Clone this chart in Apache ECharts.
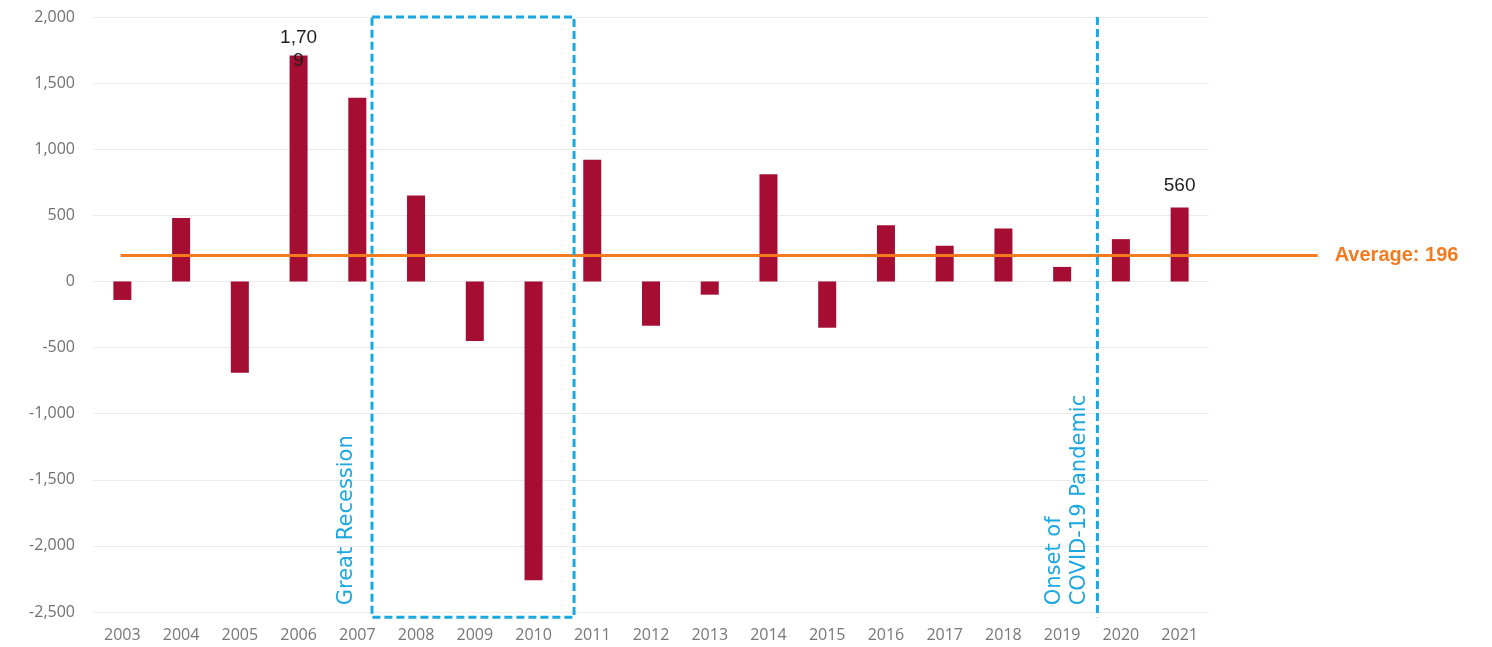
<!DOCTYPE html>
<html>
<head>
<meta charset="utf-8">
<title>Annual change, 2003–2021</title>
<script src="https://cdn.jsdelivr.net/npm/echarts@6/dist/echarts.min.js"></script>
<style>
  html, body { margin: 0; padding: 0; background: #ffffff; }
  #chart { width: 1492px; height: 647px; }
</style>
</head>
<body>
<div id="chart"></div>
<script>
// Year-over-year change
const years = ['2003', '2004', '2005', '2006', '2007', '2008', '2009', '2010', '2011', '2012',
               '2013', '2014', '2015', '2016', '2017', '2018', '2019', '2020', '2021'];
const changes = [-140, 480, -690, 1709, 1390, 650, -450, -2260, 920, -335,
                 -100, 810, -350, 425, 270, 400, 110, 320, 560];
const labelledYears = ['2006', '2021'];
const average = 196;

// Value axis
const yMin = -2500;
const yMax = 2000;
const yStep = 500;

// Annotated periods, as fractional years on the category scale
const recessionSpan = [2007.25, 2010.69];
const covidOnset = 2019.6;

const BAR = '#a50d32';
const ORANGE = '#f27a1f';
const BLUE = '#1ba7e0';

const chart = echarts.init(document.getElementById('chart'), null, { renderer: 'canvas' });

const fmt = v => v.toLocaleString('en-US');

const barData = changes.map((v, i) => {
  if (!labelledYears.includes(years[i])) return v;
  const tall = String(fmt(v)).length > 4;
  return {
    value: v,
    label: {
      show: true,
      position: 'top',
      distance: 10,
      offset: [0, tall ? 27 : 0],
      width: 40,
      overflow: 'breakAll',
      lineHeight: 23,
      fontFamily: 'Liberation Sans, Arial, sans-serif',
      fontSize: 19,
      color: '#1e1e1e',
      formatter: p => fmt(p.value)
    }
  };
});

const option = {
  animation: false,
  backgroundColor: '#ffffff',
  grid: { left: 93, right: 283, top: 17, bottom: 35, containLabel: false },
  xAxis: {
    type: 'category',
    data: years,
    axisLine: { show: false, onZero: false },
    axisTick: { show: false },
    axisLabel: {
      margin: 15,
      color: '#777777',
      fontFamily: 'Open Sans, sans-serif',
      fontSize: 16
    },
    splitLine: { show: false }
  },
  yAxis: {
    type: 'value',
    min: yMin,
    max: yMax,
    interval: yStep,
    axisLine: { show: false },
    axisTick: { show: false },
    axisLabel: {
      margin: 18,
      color: '#707070',
      fontFamily: 'Open Sans, sans-serif',
      fontSize: 16,
      formatter: v => fmt(v)
    },
    splitLine: { lineStyle: { color: '#ebebeb', width: 1 } }
  },
  series: [{
    type: 'bar',
    data: barData,
    barWidth: 18,
    itemStyle: { color: BAR },
    label: { show: false }
  }]
};

chart.setOption(option);

// Overlays placed through the chart's own scales
function yearToX(yr) {
  const p0 = chart.convertToPixel({ xAxisIndex: 0 }, years[0]);
  const p1 = chart.convertToPixel({ xAxisIndex: 0 }, years[1]);
  return p0 + (yr - Number(years[0])) * (p1 - p0);
}
const valToY = v => chart.convertToPixel({ yAxisIndex: 0 }, v);

const avgY = valToY(average);
const avgX0 = yearToX(2002.97);
const avgX1 = yearToX(2023.35);

const boxTop = valToY(yMax);
const boxBottom = valToY(yMin - 40);
const recX0 = yearToX(recessionSpan[0]);
const recX1 = yearToX(recessionSpan[1]);
const covX = yearToX(covidOnset);

const dash = { stroke: BLUE, lineWidth: 3, lineDash: [8, 4], fill: null };
const noteFont = { fontFamily: 'DejaVu Sans, sans-serif', fontSize: 21, fill: BLUE };

chart.setOption({
  graphic: [
    {
      type: 'line', z: 10,
      shape: { x1: avgX0, y1: avgY, x2: avgX1, y2: avgY },
      style: { stroke: ORANGE, lineWidth: 3 }
    },
    {
      type: 'text', z: 10,
      x: avgX1 + 17, y: avgY,
      style: {
        text: 'Average: ' + fmt(average),
        fontFamily: 'Liberation Sans, Arial, sans-serif',
        fontWeight: 'bold', fontSize: 20, fill: ORANGE,
        textAlign: 'left', textVerticalAlign: 'middle'
      }
    },
    {
      type: 'rect', z: 11,
      shape: { x: recX0, y: boxTop, width: recX1 - recX0, height: boxBottom - boxTop },
      style: dash
    },
    {
      type: 'line', z: 11,
      shape: { x1: covX, y1: boxTop, x2: covX, y2: boxBottom },
      style: dash
    },
    {
      type: 'text', z: 11,
      x: recX0 - 25, y: boxBottom - 12,
      rotation: Math.PI / 2,
      style: Object.assign({ text: 'Great Recession', textAlign: 'left', textVerticalAlign: 'middle' }, noteFont)
    },
    {
      type: 'text', z: 11,
      x: covX - 30, y: boxBottom - 12,
      rotation: Math.PI / 2,
      style: Object.assign({
        text: 'Onset of\nCOVID-19 Pandemic',
        lineHeight: 25,
        textAlign: 'left', textVerticalAlign: 'middle'
      }, noteFont)
    }
  ]
});
</script>
</body>
</html>
